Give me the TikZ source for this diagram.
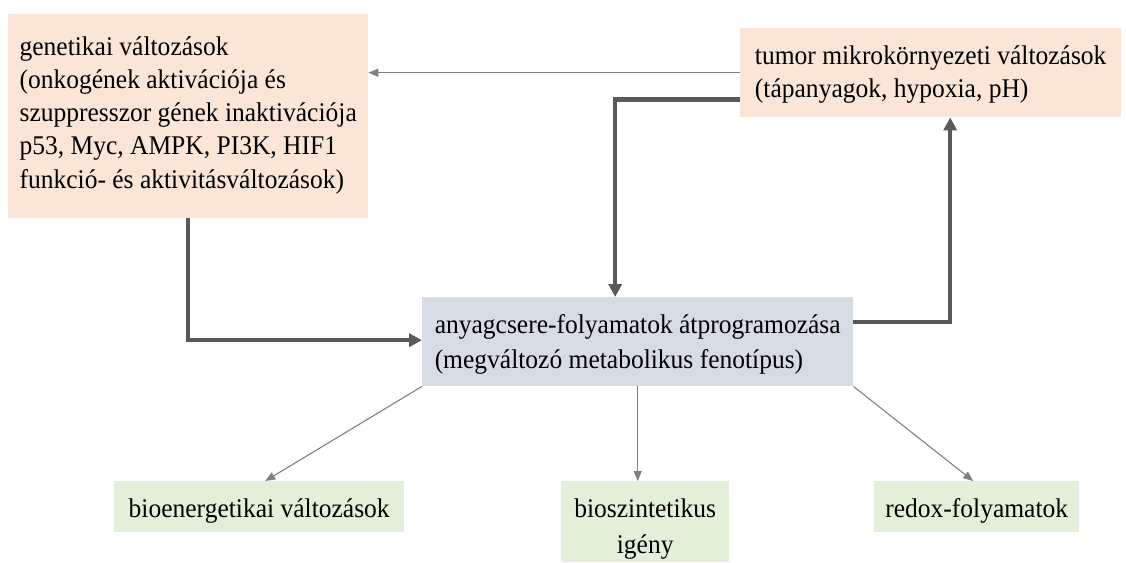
\documentclass[tikz,border=0pt]{standalone}
\usepackage{fontspec}
\setmainfont{Liberation Serif}[FakeStretch=0.945]
\usetikzlibrary{arrows.meta,calc}
\definecolor{peach}{HTML}{FBE5D6}
\definecolor{bluegrey}{HTML}{D6DCE5}
\definecolor{palegreen}{HTML}{E2F0D9}
\definecolor{thickgrey}{HTML}{595959}
\definecolor{thingrey}{HTML}{808080}
\tikzset{
  box/.style={anchor=north west, inner xsep=8pt, inner ysep=0pt, draw=none},
  peachbox/.style={box, fill=peach, align=left, font=\fontsize{27}{33.3}\selectfont},
  centrebox/.style={box, fill=bluegrey, align=left, font=\fontsize{27}{35}\selectfont},
  greenbox/.style={box, fill=palegreen, align=center, font=\fontsize{27}{36}\selectfont},
  thickarrow/.style={draw=thickgrey, line width=4.5pt, line join=miter,
    -{Triangle[length=13pt,width=13pt]}},
  thinarrow/.style={draw=thingrey, line width=1.1pt,
    -{Triangle[length=10pt,width=8pt]}}
}
\begin{document}
\begin{tikzpicture}[x=1pt,y=-1pt]
\useasboundingbox (0,0) rectangle (1126,562);

\node[peachbox, minimum width=360pt, text height=174pt, text depth=30pt] (gen) at (8,14)
  {genetikai változások\\(onkogének aktivációja és\\szuppresszor gének inaktivációja\\p53, Myc, AMPK, PI3K, HIF1\\funkció- és aktivitásváltozások)};

\node[peachbox, minimum width=381pt, text height=69pt, text depth=20pt,
  font=\fontsize{27}{32.5}\selectfont] (tumor) at (740,28)
  {tumor mikrokörnyezeti változások\\(tápanyagok, hypoxia, pH)};

\node[centrebox, minimum width=431pt, text height=71pt, text depth=18pt] (centre) at (422,297)
  {anyagcsere-folyamatok átprogramozása\\(megváltozó metabolikus fenotípus)};

\node[greenbox, minimum width=290pt, text height=36pt, text depth=15pt] (bioen) at (114,481)
  {bioenergetikai változások};

\node[greenbox, minimum width=168pt, text height=72pt, text depth=9pt] (bioszint) at (561,481)
  {bioszintetikus\\igény};

\node[greenbox, minimum width=205pt, text height=36pt, text depth=15pt] (redox) at (874,481)
  {redox-folyamatok};

% connectors
\draw[thinarrow] (tumor.west) -- (tumor.west -| gen.east);
\coordinate (tleft) at ([yshift=18pt]tumor.south west);
\draw[thickarrow] (tleft) -| ([xshift=-22.5pt]centre.north);
\draw[thickarrow] (gen.south) |- ([yshift=1.5pt]centre.west);
\draw[thickarrow] ([yshift=19.5pt]centre.east) -| ([xshift=19.5pt]tumor.south);

\draw[thinarrow] (centre.south west) -- ([xshift=6pt]bioen.north);
\draw[thinarrow] (centre.south) -- (centre.south |- bioszint.north);
\draw[thinarrow] (centre.south east) -- ([xshift=-3.5pt]redox.north);
\end{tikzpicture}
\end{document}
